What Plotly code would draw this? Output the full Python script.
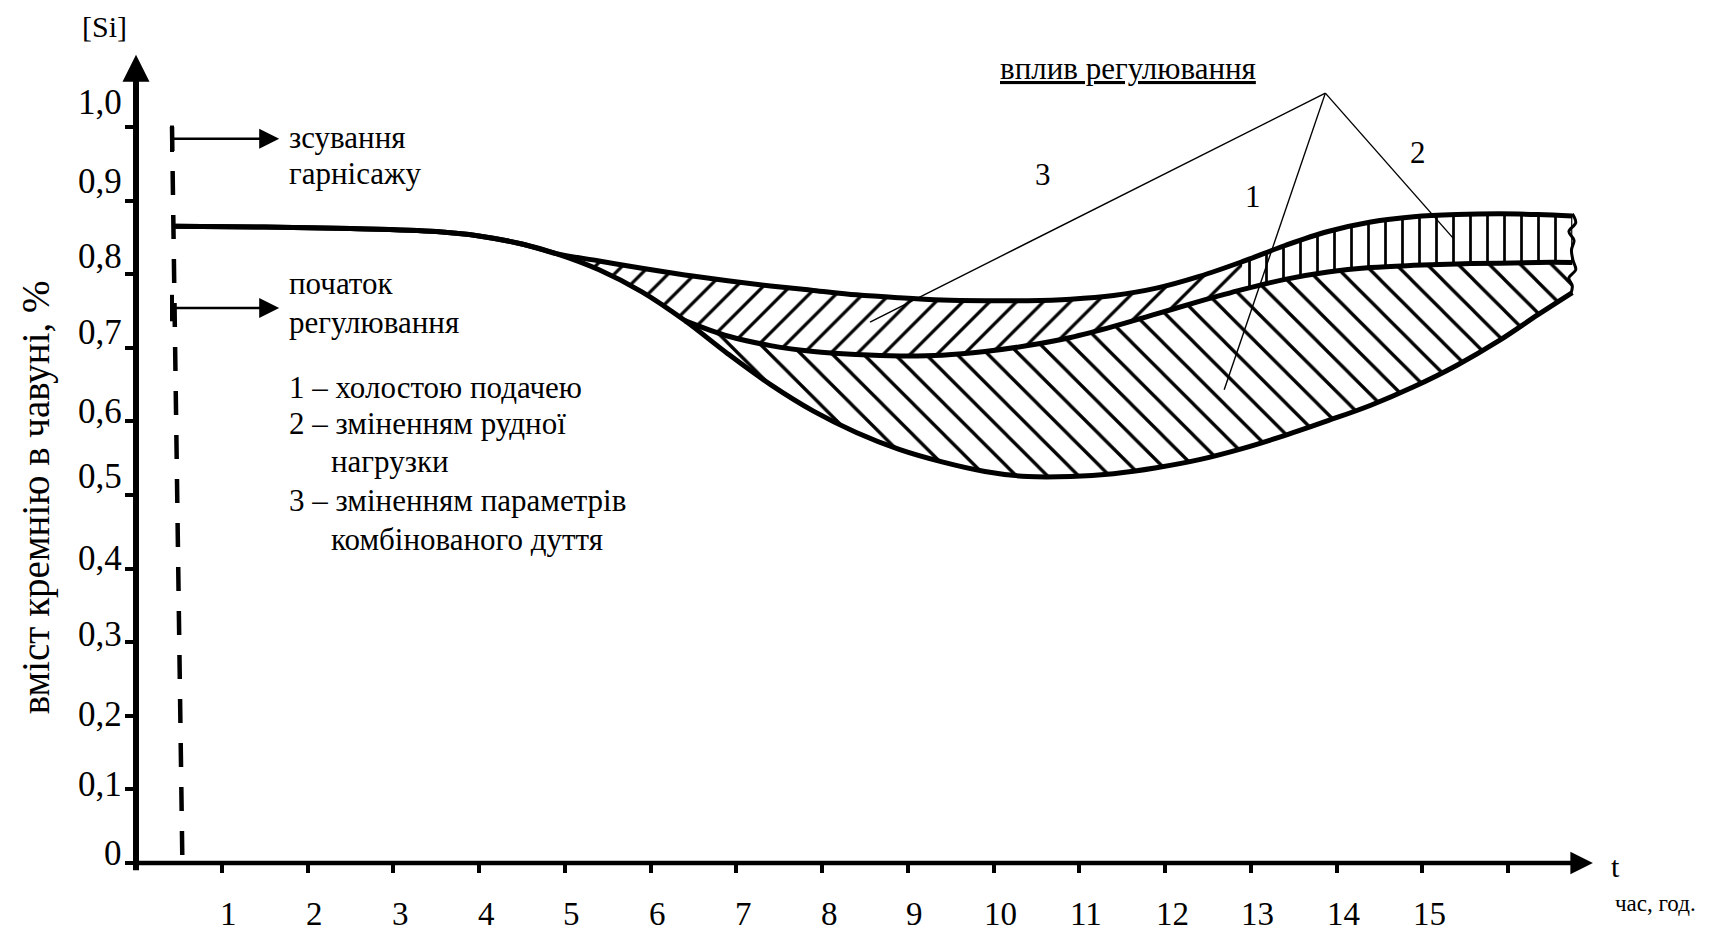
import plotly.graph_objects as go

FONT = "Liberation Serif"

# ---------------- axes ----------------
x_tick_vals = list(range(1, 17))
x_tick_text = [str(i) for i in range(1, 16)]          # tick 16 has no label
y_tick_vals = [0.0, 0.1, 0.2, 0.3, 0.4, 0.5, 0.6, 0.7, 0.8, 0.9, 1.0]
y_tick_text = ["0", "0,1", "0,2", "0,3", "0,4", "0,5", "0,6", "0,7", "0,8", "0,9", "1,0"]
y_label_lift = [10, 5, 1, 8, 10, 19, 10, 15, 18, 19, 25]   # px the hand-lettered labels sit above their ticks
x_axis_end = 16.99
y_axis_end = 1.098

# ---------------- curves (t, [Si]) ----------------
base_t = [0.45, 1.5, 2.5, 3.5, 4.0, 4.5, 4.9]
base_v = [0.865, 0.864, 0.862, 0.858, 0.852, 0.841, 0.828]

upper_t = [4.9, 5.4, 5.9, 6.4, 6.9, 7.4, 7.9, 8.4, 8.9, 9.4, 9.9, 10.4, 10.9, 11.4, 11.9, 12.4,
           12.9, 13.4, 13.9, 14.4, 14.9, 15.4, 15.9, 16.35, 16.75]
upper_v = [0.828, 0.818, 0.808, 0.799, 0.791, 0.784, 0.778, 0.772, 0.768, 0.765, 0.764, 0.764, 0.766, 0.771, 0.781, 0.797,
           0.817, 0.839, 0.858, 0.871, 0.878, 0.881, 0.882, 0.881, 0.879]

mid_t = [6.4, 6.9, 7.4, 7.9, 8.4, 8.9, 9.4, 9.9, 10.4, 10.9, 11.4, 11.9, 12.4, 12.9,
         13.4, 13.9, 14.4, 14.9, 15.4, 15.9, 16.35, 16.75]
mid_v = [0.737, 0.716, 0.703, 0.695, 0.691, 0.689, 0.690, 0.695, 0.703, 0.714, 0.729, 0.746, 0.763, 0.779,
         0.793, 0.803, 0.809, 0.812, 0.814, 0.815, 0.816, 0.816]

low_t = [4.9, 5.4, 5.9, 6.4, 6.9, 7.4, 7.9, 8.4, 8.9, 9.4, 9.9, 10.4, 10.9, 11.4, 11.9, 12.4,
         12.9, 13.4, 13.9, 14.4, 14.9, 15.4, 15.9, 16.35, 16.75]
low_v = [0.828, 0.806, 0.776, 0.737, 0.692, 0.650, 0.614, 0.585, 0.562, 0.545, 0.532, 0.525, 0.525, 0.529, 0.537, 0.548,
         0.563, 0.581, 0.601, 0.622, 0.647, 0.676, 0.710, 0.745, 0.775]

split_23 = 12.9      # where the "3" hatching gives way to the "2" hatching

break_t = [16.75, 16.79, 16.71, 16.77, 16.74, 16.76, 16.79, 16.71, 16.75, 16.73]
break_v = [0.882, 0.870, 0.858, 0.846, 0.833, 0.818, 0.806, 0.795, 0.784, 0.772]

# dashed marker line and arrows
dash_t = [0.42, 0.54]
dash_v = [1.0, 0.008]
arrow_levels = [0.984, 0.754]
arrow_from = 0.42
arrow_to = 1.67

# leader lines
apex_t, apex_v = 13.87, 1.046
leader_t = [8.56, 12.69, 15.36]
leader_v = [0.735, 0.643, 0.849]

# texts
num_labels = ["3", "1", "2"]
num_t = [10.58, 13.03, 14.95]
num_v = [0.935, 0.905, 0.965]
note1 = ["зсування", "гарнісажу"]
note2 = ["початок", "регулювання"]
legend_lines = ["1 – холостою подачею", "2 – зміненням рудної", "нагрузки",
                "3 – зміненням параметрів", "комбінованого дуття"]
legend_indent = [False, False, True, False, True]
influence_text = "вплив регулювання"
y_title = "вміст кремнію в чавуні, %"
y_unit = "[Si]"
x_title = "t"
x_unit = "час, год."

fig = go.Figure()

def upto(ts, vs, lim, inclusive=True):
    k = ts.index(lim)
    k = k + 1 if inclusive else k
    return ts[:k], vs[:k]

def after(ts, vs, lim):
    k = ts.index(lim)
    return ts[k:], vs[k:]

HID = dict(width=0, shape="spline", color="rgba(0,0,0,0)")

def hatch(top_t, top_v, bot_t, bot_v, shape, size, sol):
    fig.add_trace(go.Scatter(x=top_t, y=top_v, mode="lines", line=HID, hoverinfo="skip"))
    fig.add_trace(go.Scatter(x=bot_t, y=bot_v, mode="lines", fill="tonexty", fillcolor="rgba(0,0,0,0)",
                             fillpattern=dict(shape=shape, size=size, solidity=sol, fgcolor="black",
                                              fgopacity=1, fillmode="replace"),
                             line=HID, hoverinfo="skip"))

# region 3 (/)
t3u, v3u = upto(upper_t, upper_v, split_23)
t3a, v3a = upto(low_t, low_v, 6.4, inclusive=False)
t3b, v3b = upto(mid_t, mid_v, split_23)
hatch(t3u, v3u, t3a + t3b, v3a + v3b, "/", 19, 0.17)
# region 1 (\)
t1b, v1b = after(low_t, low_v, 6.4)
hatch(mid_t, mid_v, t1b, v1b, "\\", 22, 0.15)
# region 2 (|)
t2u, v2u = after(upper_t, upper_v, split_23)
t2b, v2b = after(mid_t, mid_v, split_23)
hatch(t2u, v2u, t2b, v2b, "|", 17, 0.16)

# ---------- boundary curves ----------
thick = dict(color="black", width=5, shape="spline")
fig.add_trace(go.Scatter(x=base_t + upper_t[1:], y=base_v + upper_v[1:], mode="lines", line=thick, hoverinfo="skip"))
fig.add_trace(go.Scatter(x=base_t + low_t[1:], y=base_v + low_v[1:], mode="lines", line=thick, hoverinfo="skip"))
fig.add_trace(go.Scatter(x=mid_t, y=mid_v, mode="lines", line=thick, hoverinfo="skip"))
fig.add_trace(go.Scatter(x=break_t, y=break_v, mode="lines",
                         line=dict(color="black", width=3, shape="spline"), hoverinfo="skip"))

# dashed vertical line
fig.add_trace(go.Scatter(x=dash_t, y=dash_v, mode="lines",
                         line=dict(color="black", width=4.5, dash="24px,20px"), hoverinfo="skip"))
# start bars of arrows
for lv in arrow_levels:
    fig.add_trace(go.Scatter(x=[arrow_from, arrow_from], y=[lv - 0.018, lv + 0.018], mode="lines",
                             line=dict(color="black", width=4), hoverinfo="skip"))

# leader lines
lx, ly = [], []
for t, v in zip(leader_t, leader_v):
    lx += [apex_t, t, None]
    ly += [apex_v, v, None]
fig.add_trace(go.Scatter(x=lx, y=ly, mode="lines", line=dict(color="black", width=1.4), hoverinfo="skip"))

ann = []
F = dict(family=FONT, color="black")

# axes arrows
ann.append(dict(x=x_axis_end, y=0, ax=-0.02, ay=0, xref="x", yref="y", axref="x", ayref="y",
                text="", showarrow=True, arrowhead=2, arrowsize=1.0, arrowwidth=4.5, arrowcolor="black"))
ann.append(dict(x=0, y=y_axis_end, ax=0, ay=-0.012, xref="x", yref="y", axref="x", ayref="y",
                text="", showarrow=True, arrowhead=2, arrowsize=0.9, arrowwidth=6, arrowcolor="black"))
# small arrows
for lv in arrow_levels:
    ann.append(dict(x=arrow_to, y=lv, ax=arrow_from, ay=lv, xref="x", yref="y", axref="x", ayref="y",
                    text="", showarrow=True, arrowhead=2, arrowsize=1.6, arrowwidth=2.5, arrowcolor="black"))

# tick labels
for v, txt, lift in zip(y_tick_vals, y_tick_text, y_label_lift):
    ann.append(dict(x=0, xref="paper", y=v, yref="y", text=txt, showarrow=False,
                    xanchor="right", yanchor="middle", xshift=-12, yshift=lift, font=dict(F, size=35)))
for t, txt in zip(x_tick_vals, x_tick_text):
    ann.append(dict(x=t, xref="x", y=0, yref="paper", text=txt, showarrow=False,
                    xanchor="center", yanchor="middle", xshift=7, yshift=-51, font=dict(F, size=33)))

# axis titles
ann.append(dict(x=0, xref="paper", y=1.136, yref="y", text=y_unit, showarrow=False,
                xanchor="center", yanchor="middle", xshift=-32, font=dict(F, size=30)))
ann.append(dict(x=0, xref="paper", y=0.497, yref="y", text=y_title, showarrow=False, textangle=-90,
                xanchor="center", yanchor="middle", xshift=-100, font=dict(F, size=39)))
ann.append(dict(x=17.25, xref="x", y=0, yref="paper", text=x_title, showarrow=False,
                xanchor="center", yanchor="middle", yshift=-3, font=dict(F, size=30)))
ann.append(dict(x=17.72, xref="x", y=0, yref="paper", text=x_unit, showarrow=False,
                xanchor="center", yanchor="middle", yshift=-40, font=dict(F, size=23)))

# notes
for i, txt in enumerate(note1):
    ann.append(dict(x=1.76, y=0.9864 - i * 0.0489, xref="x", yref="y", text=txt, showarrow=False,
                    xanchor="left", yanchor="middle", font=dict(F, size=31)))
for i, txt in enumerate(note2):
    ann.append(dict(x=1.76, y=0.788 - i * 0.053, xref="x", yref="y", text=txt, showarrow=False,
                    xanchor="left", yanchor="middle", font=dict(F, size=31)))
legend_v = [0.6454, 0.5965, 0.5462, 0.4932, 0.4402]
for txt, ind, v in zip(legend_lines, legend_indent, legend_v):
    ann.append(dict(x=2.25 if ind else 1.76, y=v, xref="x", yref="y", text=txt, showarrow=False,
                    xanchor="left", yanchor="middle", font=dict(F, size=31)))

ann.append(dict(x=11.57, y=1.079, xref="x", yref="y", text="<u>" + influence_text + "</u>", showarrow=False,
                xanchor="center", yanchor="middle", font=dict(F, size=31)))
for txt, t, v in zip(num_labels, num_t, num_v):
    ann.append(dict(x=t, y=v, xref="x", yref="y", text=txt, showarrow=False,
                    xanchor="center", yanchor="middle", font=dict(F, size=31)))

fig.update_layout(
    width=1713, height=936,
    margin=dict(l=136, r=0, t=0, b=73, pad=0),
    paper_bgcolor="white", plot_bgcolor="white",
    showlegend=False,
    annotations=ann,
    xaxis=dict(range=[0, 1577 / 85.75], showgrid=False, zeroline=False, showline=False,
               tickvals=x_tick_vals, ticks="outside", ticklen=9, tickwidth=4, tickcolor="black",
               showticklabels=False, fixedrange=True),
    yaxis=dict(range=[0, 863 / 736], showgrid=False, zeroline=False, showline=False,
               tickvals=y_tick_vals, ticks="outside", ticklen=10, tickwidth=4, tickcolor="black",
               showticklabels=False, fixedrange=True),
)

fig.write_html("out.html", config={"displayModeBar": False},
               post_script="document.body.style.margin='0';document.body.style.overflow='hidden';")
